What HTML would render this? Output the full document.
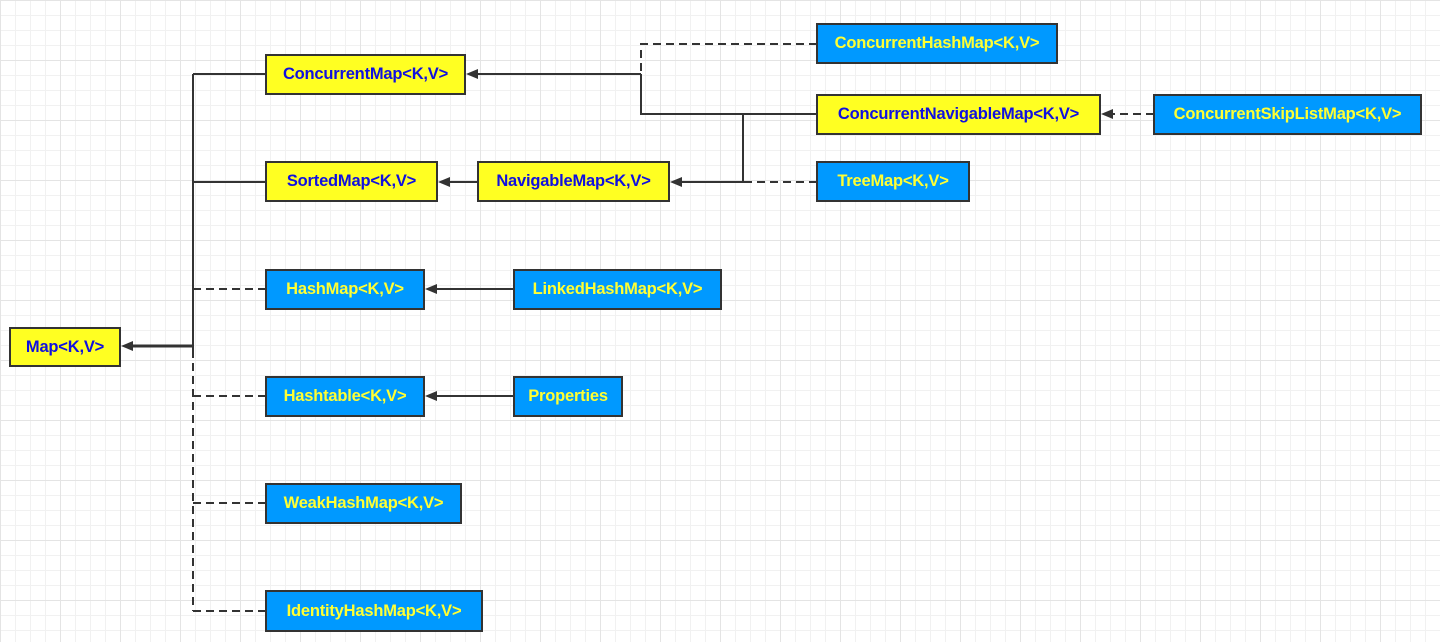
<!DOCTYPE html>
<html><head><meta charset="utf-8"><style>
html,body{margin:0;padding:0;}
body{width:1440px;height:642px;overflow:hidden;background:#fff;
background-image:linear-gradient(#e4e4e4 1px,transparent 1px),linear-gradient(90deg,#e4e4e4 1px,transparent 1px),linear-gradient(#f1f1f1 1px,transparent 1px),linear-gradient(90deg,#f1f1f1 1px,transparent 1px);
background-size:60px 60px,60px 60px,15px 15px,15px 15px;position:relative;font-family:"Liberation Sans",sans-serif;}
.b{position:absolute;box-sizing:border-box;border:2px solid #333;display:flex;align-items:center;justify-content:center;font-weight:bold;font-size:16.5px;letter-spacing:-0.2px;}
.y{background:#ffff22;color:#1010e0;}
.c{background:#0099ff;color:#ffff33;}
svg{position:absolute;left:0;top:0;}
</style></head><body>
<svg width="1440" height="642">
<g stroke="#333" stroke-width="2" fill="none">
<path d="M193,74 V350"/>
<path d="M193,350 V611" stroke-dasharray="8,5"/>
<path d="M266,74 H193"/>
<path d="M266,182 H193"/>
<path d="M266,289 H193 M266,396 H193 M266,503 H193 M266,611 H193" stroke-dasharray="8,5"/>
<path d="M193,346 H130" stroke-width="3"/>
<path d="M641,74 H476"/>
<path d="M817,44 H641 V74" stroke-dasharray="8,5"/>
<path d="M817,114 H641 V74"/>
<path d="M743,114 V182 H680"/>
<path d="M817,182 H743" stroke-dasharray="8,5"/>
<path d="M478,182 H448"/>
<path d="M514,289 H435"/>
<path d="M514,396 H435"/>
<path d="M1154,114 H1111" stroke-dasharray="8,5"/>
</g>
<g fill="#333">
<polygon points="121,346 133,341 133,351"/>
<polygon points="466,74 478,69 478,79"/>
<polygon points="670,182 682,177 682,187"/>
<polygon points="438,182 450,177 450,187"/>
<polygon points="425,289 437,284 437,294"/>
<polygon points="425,396 437,391 437,401"/>
<polygon points="1101,114 1113,109 1113,119"/>
</g></svg>
<div class="b y" style="left:9px;top:327px;width:112px;height:40px">Map&lt;K,V&gt;</div>
<div class="b y" style="left:265px;top:54px;width:201px;height:41px">ConcurrentMap&lt;K,V&gt;</div>
<div class="b y" style="left:265px;top:161px;width:173px;height:41px">SortedMap&lt;K,V&gt;</div>
<div class="b y" style="left:477px;top:161px;width:193px;height:41px">NavigableMap&lt;K,V&gt;</div>
<div class="b c" style="left:816px;top:23px;width:242px;height:41px">ConcurrentHashMap&lt;K,V&gt;</div>
<div class="b y" style="left:816px;top:94px;width:285px;height:41px">ConcurrentNavigableMap&lt;K,V&gt;</div>
<div class="b c" style="left:1153px;top:94px;width:269px;height:41px">ConcurrentSkipListMap&lt;K,V&gt;</div>
<div class="b c" style="left:816px;top:161px;width:154px;height:41px">TreeMap&lt;K,V&gt;</div>
<div class="b c" style="left:265px;top:269px;width:160px;height:41px">HashMap&lt;K,V&gt;</div>
<div class="b c" style="left:513px;top:269px;width:209px;height:41px">LinkedHashMap&lt;K,V&gt;</div>
<div class="b c" style="left:265px;top:376px;width:160px;height:41px">Hashtable&lt;K,V&gt;</div>
<div class="b c" style="left:513px;top:376px;width:110px;height:41px">Properties</div>
<div class="b c" style="left:265px;top:483px;width:197px;height:41px">WeakHashMap&lt;K,V&gt;</div>
<div class="b c" style="left:265px;top:590px;width:218px;height:42px">IdentityHashMap&lt;K,V&gt;</div>
</body></html>
